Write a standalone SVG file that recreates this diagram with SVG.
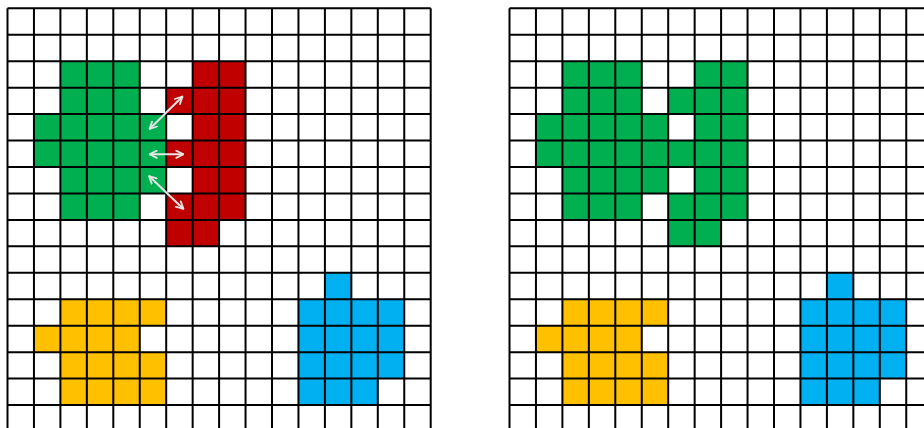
<svg xmlns="http://www.w3.org/2000/svg" width="924" height="428" viewBox="0 0 924 428">
  <style>
    .green { fill: #00B050; }
    .red { fill: #C00000; }
    .yellow { fill: #FFC000; }
    .blue { fill: #00B0F0; }
    .grid { fill: none; stroke: #000000; stroke-width: 2; }
    .arrow { fill: none; stroke: #E6E6E6; stroke-width: 2; marker-start: url(#head); marker-end: url(#head); }
  </style>
  <defs>
    <marker id="head" viewBox="0 0 10 10" refX="9" refY="5" markerWidth="9" markerHeight="9" markerUnits="userSpaceOnUse" orient="auto-start-reverse">
      <path d="M1,1 L9,5 L1,9" fill="none" stroke="#E6E6E6" stroke-width="2" stroke-linecap="round" stroke-linejoin="round"/>
    </marker>
    <path id="gridlines" class="grid" vector-effect="non-scaling-stroke" d="M0,0V16M1,0V16M2,0V16M3,0V16M4,0V16M5,0V16M6,0V16M7,0V16M8,0V16M9,0V16M10,0V16M11,0V16M12,0V16M13,0V16M14,0V16M15,0V16M16,0V16M0,0H16M0,1H16M0,2H16M0,3H16M0,4H16M0,5H16M0,6H16M0,7H16M0,8H16M0,9H16M0,10H16M0,11H16M0,12H16M0,13H16M0,14H16M0,15H16M0,16H16"/>
    <g id="yellowShape" class="yellow">
      <rect x="2" y="11" width="4" height="1"/>
      <rect x="1" y="12" width="4" height="1"/>
      <rect x="2" y="13" width="4" height="2"/>
    </g>
    <g id="blueShape" class="blue">
      <rect x="12" y="10" width="1" height="1"/>
      <rect x="11" y="11" width="4" height="3"/>
      <rect x="11" y="14" width="3" height="1"/>
    </g>
    <g id="greenShape">
      <rect x="2" y="2" width="3" height="2"/>
      <rect x="1" y="4" width="5" height="2"/>
      <rect x="2" y="6" width="4" height="1"/>
      <rect x="2" y="7" width="3" height="1"/>
    </g>
    <g id="redShape">
      <rect x="7" y="2" width="2" height="6"/>
      <rect x="6" y="3" width="1" height="1"/>
      <rect x="6" y="5" width="1" height="1"/>
      <rect x="6" y="7" width="1" height="2"/>
      <rect x="7" y="8" width="1" height="1"/>
    </g>
  </defs>

  <rect x="0" y="0" width="924" height="428" fill="#FFFFFF"/>

  <g id="left-grid" transform="translate(7.5,8.3) scale(26.45)">
    <g id="left-green" class="green"><use href="#greenShape"/></g>
    <g id="left-red" class="red"><use href="#redShape"/></g>
    <g id="left-yellow"><use href="#yellowShape"/></g>
    <g id="left-blue"><use href="#blueShape"/></g>
    <use href="#gridlines"/>
  </g>

  <g id="right-grid" transform="translate(509.5,8.3) scale(26.45)">
    <g id="right-green" class="green"><use href="#greenShape"/><use href="#redShape"/></g>
    <g id="right-yellow"><use href="#yellowShape"/></g>
    <g id="right-blue"><use href="#blueShape"/></g>
    <use href="#gridlines"/>
  </g>

  <g id="connectors">
    <line class="arrow" x1="149.5" y1="129" x2="182.5" y2="96.5"/>
    <line class="arrow" x1="149.5" y1="154.3" x2="183.5" y2="154.3"/>
    <line class="arrow" x1="149" y1="176" x2="183.5" y2="209"/>
  </g>
</svg>
